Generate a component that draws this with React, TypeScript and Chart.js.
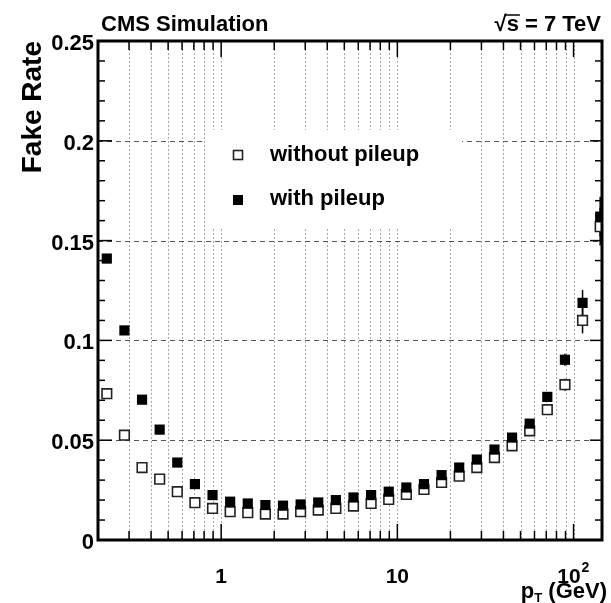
import React, { useEffect, useRef } from 'react';
import { Chart, registerables } from 'chart.js';

Chart.register(...registerables);

// pT bin centres (GeV), log-spaced bins
const ptBins = [
  0.2244, 0.2825, 0.3556, 0.4477, 0.5636, 0.7096, 0.8933, 1.1246, 1.4158, 1.7824,
  2.2439, 2.8249, 3.5563, 4.4771, 5.6364, 7.0958, 8.9331, 11.246, 14.158, 17.824,
  22.439, 28.249, 35.563, 44.771, 56.364, 70.958, 89.331, 112.46, 141.58,
];

const withoutPileup = [
  0.0733, 0.0525, 0.0363, 0.0305, 0.0242, 0.0187, 0.0158, 0.0142, 0.0137, 0.013,
  0.013, 0.0142, 0.015, 0.0158, 0.017, 0.0183, 0.0203, 0.0228, 0.0253, 0.0288,
  0.032, 0.0363, 0.0413, 0.0472, 0.0547, 0.0653, 0.0778, 0.11, 0.157,
];

const withPileup = [
  0.141, 0.105, 0.0703, 0.0553, 0.0388, 0.028, 0.0225, 0.0192, 0.0183, 0.0175,
  0.0172, 0.0178, 0.0188, 0.02, 0.0213, 0.0225, 0.0242, 0.0263, 0.028, 0.0325,
  0.0363, 0.0403, 0.0453, 0.0513, 0.0583, 0.0717, 0.0903, 0.1188, 0.162,
];

const withoutPileupErr = [
  0.002, 0.0015, 0.001, 0.001, 0.001, 0.001, 0.001, 0.001, 0.001, 0.001,
  0.001, 0.001, 0.001, 0.001, 0.001, 0.001, 0.001, 0.001, 0.001, 0.001,
  0.001, 0.001, 0.001, 0.0012, 0.0015, 0.002, 0.003, 0.0065, 0.0095,
];

const withPileupErr = [
  0.002, 0.0015, 0.001, 0.001, 0.001, 0.001, 0.001, 0.001, 0.001, 0.001,
  0.001, 0.001, 0.001, 0.001, 0.001, 0.001, 0.001, 0.001, 0.001, 0.001,
  0.001, 0.001, 0.001, 0.0012, 0.0015, 0.002, 0.003, 0.0065, 0.01,
];

const seriesLabels = ['without pileup', 'with pileup'];

const yMajorTicks = [0, 0.05, 0.1, 0.15, 0.2, 0.25];
const yTickLabels = ['0', '0.05', '0.1', '0.15', '0.2', '0.25'];
const yMinorTicks = [
  0.01, 0.02, 0.03, 0.04, 0.06, 0.07, 0.08, 0.09, 0.11, 0.12, 0.13, 0.14,
  0.16, 0.17, 0.18, 0.19, 0.21, 0.22, 0.23, 0.24,
];

const xMajorTicks = [1, 10, 100];
const xTickLabels = ['1', '10', '10'];
const xTickSup = ['', '', '2'];
const xMinorTicks = [
  0.3, 0.4, 0.5, 0.6, 0.7, 0.8, 0.9, 2, 3, 4, 5, 6, 7, 8, 9,
  20, 30, 40, 50, 60, 70, 80, 90,
];

const titleLeft = 'CMS Simulation';
const titleRight = '√s = 7 TeV';
const yTitle = 'Fake Rate';

const FONT = '"Liberation Sans", Arial, Helvetica, sans-serif';
const f = (size: number) => `bold ${size}px ${FONT}`;

const decorPlugin = {
  id: 'rootDecor',
  beforeDatasetsDraw(chart: any) {
    const { ctx, chartArea: a, scales } = chart;
    const x = scales.x;
    const y = scales.y;
    ctx.save();
    // vertical grid lines
    ctx.lineWidth = 1;
    ctx.strokeStyle = '#a8a8a8';
    ctx.setLineDash([2, 2]);
    for (const v of [...xMinorTicks, ...xMajorTicks]) {
      const px = Math.round(x.getPixelForValue(v)) + 0.5;
      ctx.beginPath();
      ctx.moveTo(px, a.top);
      ctx.lineTo(px, a.bottom);
      ctx.stroke();
    }
    // horizontal grid lines
    ctx.strokeStyle = '#555';
    ctx.setLineDash([5, 4]);
    for (const v of yMajorTicks) {
      if (v <= y.min || v >= y.max) continue;
      const py = Math.round(y.getPixelForValue(v)) + 0.5;
      ctx.beginPath();
      ctx.moveTo(a.left, py);
      ctx.lineTo(a.right, py);
      ctx.stroke();
    }
    ctx.setLineDash([]);
    // legend box (white, hides grid)
    ctx.fillStyle = '#fff';
    ctx.fillRect(206, 130, 256, 97);

    // error bars
    ctx.strokeStyle = '#000';
    ctx.lineWidth = 1.5;
    const drawErr = (vals: number[], errs: number[]) => {
      for (let i = 0; i < ptBins.length; i++) {
        const px = x.getPixelForValue(ptBins[i]);
        const y1 = y.getPixelForValue(vals[i] - errs[i]);
        const y2 = y.getPixelForValue(Math.min(vals[i] + errs[i], y.max));
        ctx.beginPath();
        ctx.moveTo(px, y1);
        ctx.lineTo(px, y2);
        ctx.stroke();
      }
    };
    ctx.save();
    ctx.beginPath();
    ctx.rect(a.left, a.top, a.right - a.left, a.bottom - a.top);
    ctx.clip();
    drawErr(withoutPileup, withoutPileupErr);
    drawErr(withPileup, withPileupErr);
    ctx.restore();
    ctx.restore();
  },
  afterDatasetsDraw(chart: any) {
    const { ctx, chartArea: a, scales } = chart;
    const x = scales.x;
    const y = scales.y;
    ctx.save();
    // ticks
    ctx.strokeStyle = '#000';
    ctx.lineWidth = 1.5;
    const seg = (x1: number, y1: number, x2: number, y2: number) => {
      ctx.beginPath();
      ctx.moveTo(x1, y1);
      ctx.lineTo(x2, y2);
      ctx.stroke();
    };
    for (const v of yMinorTicks) {
      const py = y.getPixelForValue(v);
      seg(a.left, py, a.left + 7, py);
      seg(a.right, py, a.right - 7, py);
    }
    for (const v of yMajorTicks) {
      const py = y.getPixelForValue(v);
      seg(a.left, py, a.left + 14, py);
      seg(a.right, py, a.right - 12, py);
    }
    for (const v of xMinorTicks) {
      const px = x.getPixelForValue(v);
      seg(px, a.bottom, px, a.bottom - 9);
      seg(px, a.top, px, a.top + 9);
    }
    for (const v of xMajorTicks) {
      const px = x.getPixelForValue(v);
      seg(px, a.bottom, px, a.bottom - 16);
      seg(px, a.top, px, a.top + 16);
    }
    // frame
    ctx.lineWidth = 3;
    ctx.strokeRect(a.left, a.top, a.right - a.left, a.bottom - a.top);

    ctx.fillStyle = '#000';
    // y tick labels
    ctx.font = f(22);
    ctx.textAlign = 'right';
    ctx.textBaseline = 'middle';
    yMajorTicks.forEach((v, i) => {
      ctx.fillText(yTickLabels[i], a.left - 4, y.getPixelForValue(v) + 3);
    });
    // x tick labels
    xMajorTicks.forEach((v, i) => {
      const px = x.getPixelForValue(v);
      ctx.font = f(21);
      ctx.textBaseline = 'middle';
      if (xTickSup[i]) {
        ctx.textAlign = 'right';
        ctx.fillText(xTickLabels[i], px + 7, 577);
        ctx.font = f(14);
        ctx.textAlign = 'left';
        ctx.fillText(xTickSup[i], px + 8, 568);
      } else {
        ctx.textAlign = 'center';
        ctx.fillText(xTickLabels[i], px, 577);
      }
    });
    // x axis title: p_T (GeV)
    ctx.textBaseline = 'alphabetic';
    ctx.textAlign = 'right';
    ctx.font = f(22);
    const rest = ' (GeV)';
    const restW = ctx.measureText(rest).width;
    const xr = 607;
    ctx.fillText(rest, xr, 598);
    ctx.font = f(13);
    const tW = ctx.measureText('T').width;
    ctx.fillText('T', xr - restW, 602);
    ctx.font = f(22);
    ctx.fillText('p', xr - restW - tW, 598);

    // y axis title
    ctx.save();
    ctx.translate(41, a.top);
    ctx.rotate(-Math.PI / 2);
    ctx.font = f(28);
    ctx.textAlign = 'right';
    ctx.textBaseline = 'alphabetic';
    ctx.fillText(yTitle, 0, 0);
    ctx.restore();

    // top labels
    ctx.font = f(22);
    ctx.textBaseline = 'alphabetic';
    ctx.textAlign = 'left';
    ctx.fillText(titleLeft, 101, 31);
    ctx.textAlign = 'right';
    ctx.fillText(titleRight, 601, 31);
    // overbar of the square root over "s"
    const wAll = ctx.measureText(titleRight).width;
    const wRad = ctx.measureText('√').width;
    const wS = ctx.measureText('√s').width;
    const startX = 601 - wAll;
    ctx.lineWidth = 1.5;
    seg(startX + wRad - 1, 15, startX + wS + 1, 15);

    // legend
    ctx.font = f(22);
    ctx.textAlign = 'left';
    ctx.textBaseline = 'middle';
    ctx.lineWidth = 1.6;
    ctx.strokeStyle = '#222';
    ctx.fillStyle = '#fff';
    ctx.fillRect(233.5, 150.5, 9, 9);
    ctx.strokeRect(233.5, 150.5, 9, 9);
    ctx.fillStyle = '#000';
    ctx.fillRect(233, 195, 10, 10);
    ctx.fillText(seriesLabels[0], 270, 155);
    ctx.fillText(seriesLabels[1], 270, 199);
    ctx.restore();
  },
};

export default function App() {
  const ref = useRef<HTMLCanvasElement | null>(null);
  useEffect(() => {
    if (!ref.current) return;
    const chart = new Chart(ref.current, {
      type: 'scatter',
      data: {
        datasets: [
          {
            label: seriesLabels[1],
            data: ptBins.map((v, i) => ({ x: v, y: withPileup[i] })),
            pointStyle: 'rect',
            pointRadius: 7.2,
            backgroundColor: '#000',
            borderColor: '#000',
            borderWidth: 0,
            showLine: false,
            order: 0,
            clip: 0,
          },
          {
            label: seriesLabels[0],
            data: ptBins.map((v, i) => ({ x: v, y: withoutPileup[i] })),
            pointStyle: 'rect',
            pointRadius: 6.8,
            backgroundColor: '#fff',
            borderColor: '#222',
            borderWidth: 1.6,
            showLine: false,
            order: 1,
            clip: 0,
          },
        ],
      },
      options: {
        responsive: false,
        animation: false,
        devicePixelRatio: 1,
        events: [],
        layout: { padding: { left: 98, right: 9, top: 41, bottom: 63 } },
        scales: {
          x: { type: 'logarithmic', min: 0.2, max: 145, display: false },
          y: { type: 'linear', min: 0, max: 0.25, display: false },
        },
        plugins: {
          legend: { display: false },
          tooltip: { enabled: false },
        },
      } as any,
      plugins: [decorPlugin],
    });
    return () => chart.destroy();
  }, []);
  return (
    <div style={{ position: 'fixed', left: 0, top: 0, width: 611, height: 603, background: '#fff' }}>
      <canvas ref={ref} width={611} height={603} style={{ display: 'block' }} />
    </div>
  );
}
